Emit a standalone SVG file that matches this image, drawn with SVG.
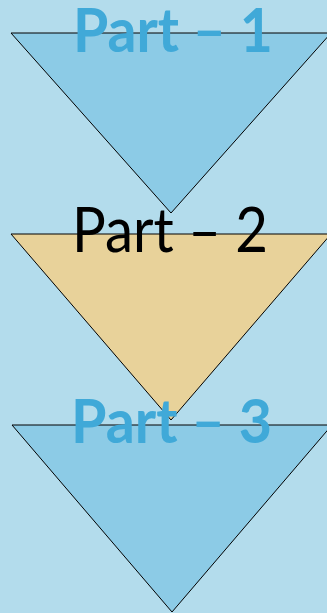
<svg xmlns="http://www.w3.org/2000/svg" width="327" height="613" viewBox="0 0 327 613">
<style>
.tri{stroke:#000;stroke-width:1}
.blue{fill:#8ccbe6}
.tan{fill:#e8d29a}
.lbl{font-family:Lato,"Open Sans",sans-serif;font-size:61px}
.lb{fill:#40a9d8;font-weight:bold}
.lk{fill:#000}
</style>
<rect width="327" height="613" fill="#b3dcec"/>
<g id="part1">
<polygon class="tri blue" points="11,33 331,33 171,213"/>
<text class="lbl lb" x="73" y="52" textLength="200" lengthAdjust="spacingAndGlyphs">Part – 1</text>
</g>
<g id="part2">
<polygon class="tri tan" points="11,234 331,234 171,420"/>
<text class="lbl lk" x="72" y="252" textLength="196" lengthAdjust="spacingAndGlyphs">Part – 2</text>
</g>
<g id="part3">
<polygon class="tri blue" points="12,425 332,425 172,612"/>
<text class="lbl lb" x="71" y="443" textLength="201" lengthAdjust="spacingAndGlyphs">Part – 3</text>
</g>
<g id="connectors"/>
</svg>
